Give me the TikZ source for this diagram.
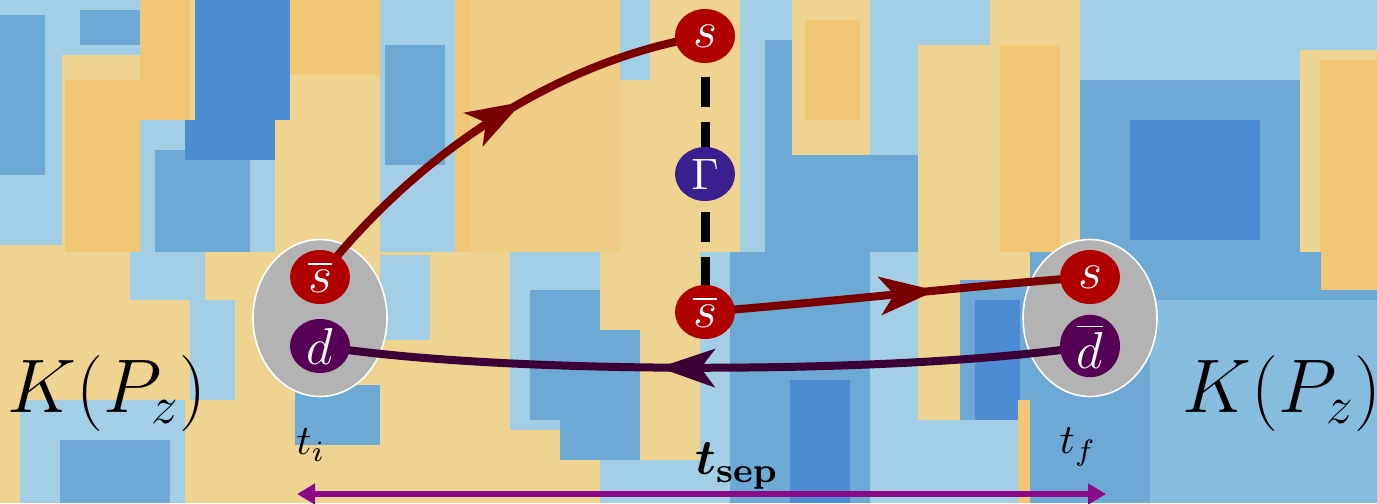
\RequirePackage{fix-cm}
\documentclass[tikz,border=0pt]{standalone}
\usetikzlibrary{shapes.geometric,arrows.meta,decorations.markings}
\DeclareMathAlphabet{\mathbit}{OML}{cmm}{b}{it}
\pgfdeclarelayer{bg}\pgfdeclarelayer{ell}\pgfdeclarelayer{edges}
\pgfsetlayers{bg,ell,edges,main}
\definecolor{hY}{HTML}{EFD391}
\definecolor{hO}{HTML}{F1C775}
\definecolor{hO2}{HTML}{F0CD84}
\definecolor{hLB}{HTML}{A3CFE6}
\definecolor{hMB}{HTML}{6DA9D5}
\definecolor{hDB}{HTML}{4B8CD3}
\definecolor{hSB}{HTML}{86BCDD}
\definecolor{qred}{HTML}{B00000}
\definecolor{qpur}{HTML}{560056}
\definecolor{qgam}{HTML}{3A1F8F}
\definecolor{ered}{HTML}{7A0000}
\definecolor{epur}{HTML}{3C0036}
\definecolor{tsepcol}{HTML}{8A0A8A}
\definecolor{ellgray}{HTML}{B3B3B3}
\newcommand\hmb[5]{\fill[#1] (#2,#3) rectangle (#4,#5);}
\tikzset{
  quark/.style={ellipse, minimum width=15pt, minimum height=13.5pt, inner sep=0pt,
    text=white, font=\fontsize{13}{15}\selectfont},
  hadron/.style={ellipse, fill=ellgray, draw=white, line width=0.4pt,
    minimum width=33.5pt, minimum height=39.25pt, inner sep=0pt},
  quarkline/.style={line width=2pt},
  midarrow/.style={postaction={decorate,decoration={markings,
    mark=at position #1 with {\arrow{Stealth[length=14pt,width=9.5pt,inset=3.5pt]}}}}},
  dashline/.style={line width=2.25pt, dash pattern=on 7.5pt off 3.75pt, dash phase=1pt},
  timelabel/.style={font=\fontsize{10.5}{12}\selectfont, inner sep=0pt},
  seplabel/.style={font=\fontsize{12.5}{14}\selectfont, inner sep=0pt},
  mesonlabel/.style={font=\fontsize{19}{22}\selectfont, inner sep=0pt}
}
\begin{document}
\begin{tikzpicture}[x=0.25pt,y=-0.25pt]
\useasboundingbox (0,0) rectangle (1377,503);
\begin{pgfonlayer}{bg}
\begin{scope}
\clip (0,0) rectangle (1377,503);
\hmb{hY}{0}{0}{1377}{503}
% left top
\hmb{hLB}{0}{0}{62}{245}
\hmb{hMB}{0}{15}{45}{175}
\hmb{hLB}{62}{0}{150}{55}
\hmb{hMB}{80}{10}{140}{45}
\hmb{hO}{65}{80}{140}{252}
\hmb{hO}{140}{0}{190}{120}
\hmb{hLB}{140}{120}{200}{252}
\hmb{hMB}{155}{150}{195}{252}
\hmb{hDB}{195}{0}{290}{120}
\hmb{hDB}{185}{120}{275}{160}
\hmb{hMB}{170}{160}{250}{252}
\hmb{hLB}{250}{160}{275}{252}
\hmb{hO}{290}{0}{400}{75}
\hmb{hLB}{380}{0}{455}{252}
\hmb{hMB}{385}{45}{445}{165}
\hmb{hO}{455}{0}{470}{252}
% left bottom
\hmb{hLB}{130}{252}{205}{300}
\hmb{hLB}{190}{300}{235}{400}
\hmb{hLB}{20}{400}{185}{503}
\hmb{hMB}{60}{440}{170}{503}
\hmb{hMB}{295}{385}{380}{445}
\hmb{hLB}{380}{255}{430}{340}
% middle top
\hmb{hO2}{470}{0}{620}{252}
\hmb{hLB}{620}{0}{650}{80}
\hmb{hLB}{740}{0}{800}{252}
\hmb{hMB}{765}{40}{800}{252}
\hmb{hY}{792}{0}{870}{155}
\hmb{hO}{805}{20}{860}{120}
\hmb{hMB}{800}{155}{918}{252}
\hmb{hLB}{870}{0}{918}{155}
% middle bottom
\hmb{hLB}{510}{252}{600}{430}
\hmb{hMB}{530}{290}{600}{420}
\hmb{hMB}{560}{330}{640}{460}
\hmb{hLB}{600}{460}{700}{503}
\hmb{hLB}{700}{252}{740}{503}
\hmb{hMB}{730}{252}{870}{503}
\hmb{hDB}{790}{380}{850}{503}
\hmb{hLB}{870}{252}{918}{503}
% right top
\hmb{hLB}{918}{0}{990}{45}
\hmb{hO}{1000}{45}{1060}{252}
\hmb{hLB}{1080}{0}{1300}{80}
\hmb{hMB}{1080}{80}{1300}{252}
\hmb{hDB}{1130}{120}{1260}{240}
\hmb{hLB}{1300}{0}{1377}{50}
\hmb{hO}{1320}{60}{1377}{252}
% right bottom
\hmb{hMB}{960}{280}{1030}{460}
\hmb{hDB}{975}{300}{1020}{440}
\hmb{hLB}{918}{420}{1018}{503}
\hmb{hO}{1018}{400}{1061}{503}
\hmb{hMB}{1030}{252}{1377}{503}
\hmb{hSB}{1150}{300}{1377}{503}
\hmb{hO}{1321}{252}{1377}{290}
\end{scope}
\end{pgfonlayer}

\begin{pgfonlayer}{ell}
\node[hadron] (lE) at (320,318) {};
\node[hadron] (rE) at (1090,318) {};
\end{pgfonlayer}

% quark nodes
\node[quark, fill=qred] (ls) at (320,277) {$\overline{s}$};
\node[quark, fill=qpur] (ld) at (320,346) {$d$};
\node[quark, fill=qred] (ts) at (705,36) {$s$};
\node[quark, fill=qgam, font=\fontsize{11}{13}\selectfont] (G) at (705,174) {$\Gamma$};
\node[quark, fill=qred] (ms) at (705,312) {$\overline{s}$};
\node[quark, fill=qred] (rs) at (1090,277) {$s$};
\node[quark, fill=qpur] (rd) at (1090,346) {$\overline{d}$};

\begin{pgfonlayer}{edges}
\draw[dashline] (ts.center) -- (ms.center);
\draw[quarkline, ered, midarrow=0.58] (ls.center) .. controls (420,150) and (560,60) .. (ts.center);
\draw[quarkline, ered, midarrow=0.6] (ms.center) .. controls (850,300) and (980,285) .. (rs.center);
\draw[quarkline, epur, midarrow=0.56] (rd.center) .. controls (900,375) and (500,375) .. (ld.center);
\end{pgfonlayer}

% labels
\node[mesonlabel] (kl) at (107,393) {$K(P_z)$};
\node[mesonlabel] (kr) at (1282,393) {$K(P_z)$};
\node[timelabel] (ti) at (311,445) {$t_i$};
\node[timelabel] (tf) at (1078,447) {$t_f$};
\node[seplabel] (tsep) at (737,466) {$\mathbit{t}_{\mathbf{sep}}$};

\coordinate (al) at (297,494);
\coordinate (ar) at (1106,494);
\draw[tsepcol, line width=1.5pt, {Triangle[length=4.5pt,width=5pt]}-{Triangle[length=4.5pt,width=5pt]}] (al) -- (ar);
\end{tikzpicture}
\end{document}
